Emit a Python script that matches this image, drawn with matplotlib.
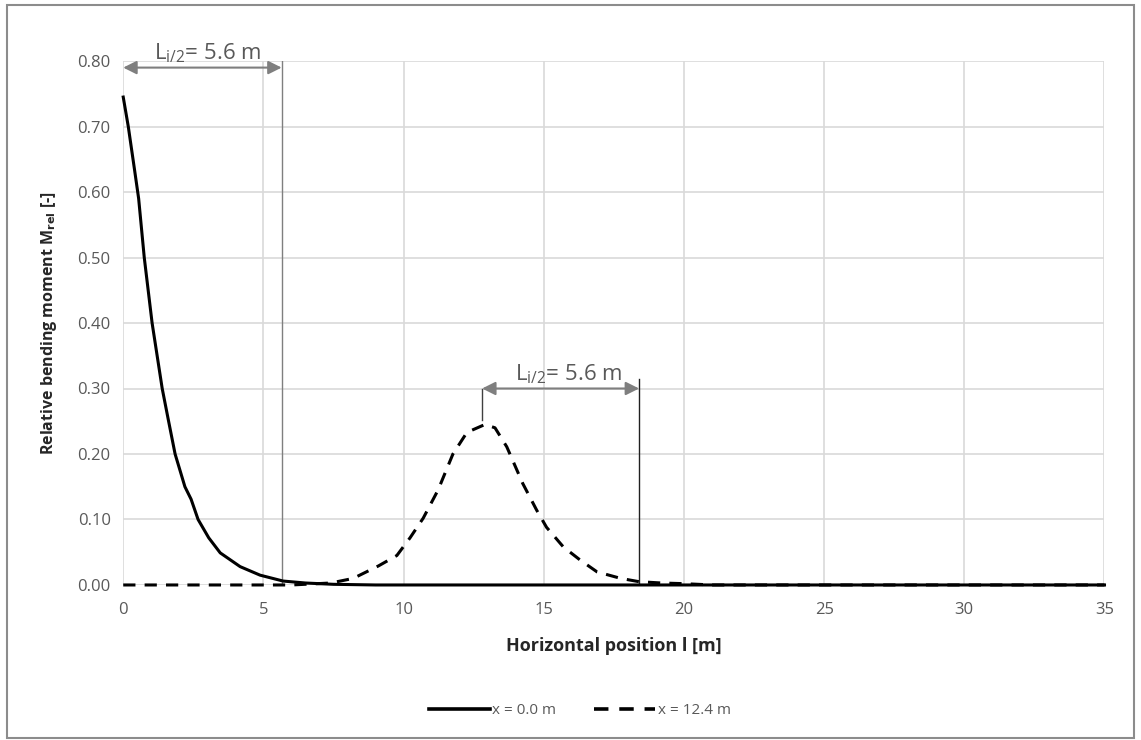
import matplotlib.pyplot as plt
from matplotlib.patches import Rectangle

plt.rcParams['font.family'] = ['Open Sans', 'DejaVu Sans']

# Datos
pos_a = [0, 0.18, 0.4, 0.55, 0.75, 1.03, 1.39, 1.6, 1.85, 2.2, 2.42, 2.67, 3.05, 3.46, 4.17, 4.88,
         5.7, 6.5, 7.5, 9, 12, 35]
mom_a = [0.745, 0.70, 0.635, 0.59, 0.50, 0.40, 0.30, 0.254, 0.20, 0.15, 0.131, 0.10, 0.072, 0.049,
         0.028, 0.015, 0.006, 0.003, 0.001, 0, 0, 0]

pos_b = [0, 6, 7.4, 8.2, 9.1, 9.76, 10.23, 10.7, 11.23, 11.76, 12.26, 12.9, 13.26, 13.68, 14.25,
         14.75, 15.1, 15.7, 16.3, 16.9, 17.75, 18.4, 19.2, 20, 21, 35]
mom_b = [0, 0, 0.003, 0.01, 0.029, 0.045, 0.072, 0.102, 0.145, 0.20, 0.233, 0.245, 0.240, 0.211,
         0.155, 0.114, 0.088, 0.058, 0.038, 0.02, 0.01, 0.005, 0.003, 0.002, 0, 0]

labels = ["x = 0.0 m", "x = 12.4 m"]
span_text = r"$\mathregular{L_{i/2}}$= 5.6 m"
span1 = (0, 5.65, 0.79)
span2 = (12.8, 18.4, 0.30)

fig = plt.figure(figsize=(11.41, 7.4), dpi=100)
ax = fig.add_axes([0.108, 0.2095, 0.86, 0.708])

ax.plot(pos_a, mom_a, color='black', lw=2.2, label=labels[0], zorder=4, clip_on=False)
ax.plot(pos_b, mom_b, color='black', lw=2.2, ls=(0, (4, 3)), label=labels[1], zorder=4, clip_on=False)

ax.set_xlim(0, 35)
ax.set_ylim(0, 0.8)
ax.set_xticks(range(0, 36, 5))
ax.set_yticks([i / 10 for i in range(9)])
ax.set_yticklabels([f"{i / 10:.2f}" for i in range(9)])
ax.grid(True, color='#d9d9d9', lw=1.2)
ax.set_axisbelow(True)
for s in ax.spines.values():
    s.set_visible(False)
ax.tick_params(length=0, labelsize=12, labelcolor='#595959')
ax.tick_params(axis='x', pad=12)
ax.tick_params(axis='y', pad=9)

ax.set_xlabel("Horizontal position l [m]", fontsize=13, fontweight='bold', color='#262626', labelpad=14)
ax.set_ylabel(r"Relative bending moment M$_{\mathbf{rel}}$ [-]", fontsize=11.5, fontweight='bold',
              color='#262626', labelpad=13)

# cotas
ax.plot([span1[1], span1[1]], [0, 0.8], color='#7f7f7f', lw=1, zorder=3)
ax.annotate('', xy=(span1[0], span1[2]), xytext=(span1[1], span1[2]),
            arrowprops=dict(arrowstyle='<|-|>', color='#7f7f7f', lw=1.5, mutation_scale=20,
                            shrinkA=0, shrinkB=0), annotation_clip=False)
ax.text((span1[0] + span1[1]) / 2 + 0.2, span1[2] + 0.004, span_text, ha='center', va='bottom',
        fontsize=16, color='#595959')

ax.plot([span2[0], span2[0]], [0.252, span2[2]], color='#404040', lw=1, zorder=3)
ax.plot([span2[1], span2[1]], [0, 0.315], color='#202020', lw=1, zorder=3)
ax.annotate('', xy=(span2[0], span2[2]), xytext=(span2[1], span2[2]),
            arrowprops=dict(arrowstyle='<|-|>', color='#7f7f7f', lw=1.5, mutation_scale=20,
                            shrinkA=0, shrinkB=0))
ax.text((span2[0] + span2[1]) / 2 + 0.3, span2[2] + 0.004, span_text, ha='center', va='bottom',
        fontsize=16, color='#595959')

leg = fig.legend(loc='center', bbox_to_anchor=(0.508, 0.04), ncol=2, frameon=False, fontsize=11,
                 handlelength=4, handletextpad=0.15, columnspacing=2.5, labelcolor='#595959')
for h in leg.get_lines():
    h.set_linewidth(2.6)

fig.patches.append(Rectangle((0.006, 0.003), 0.988, 0.99, transform=fig.transFigure,
                             fill=False, edgecolor='#8c8c8c', lw=1.5))

plt.savefig('out.png', dpi=100)
